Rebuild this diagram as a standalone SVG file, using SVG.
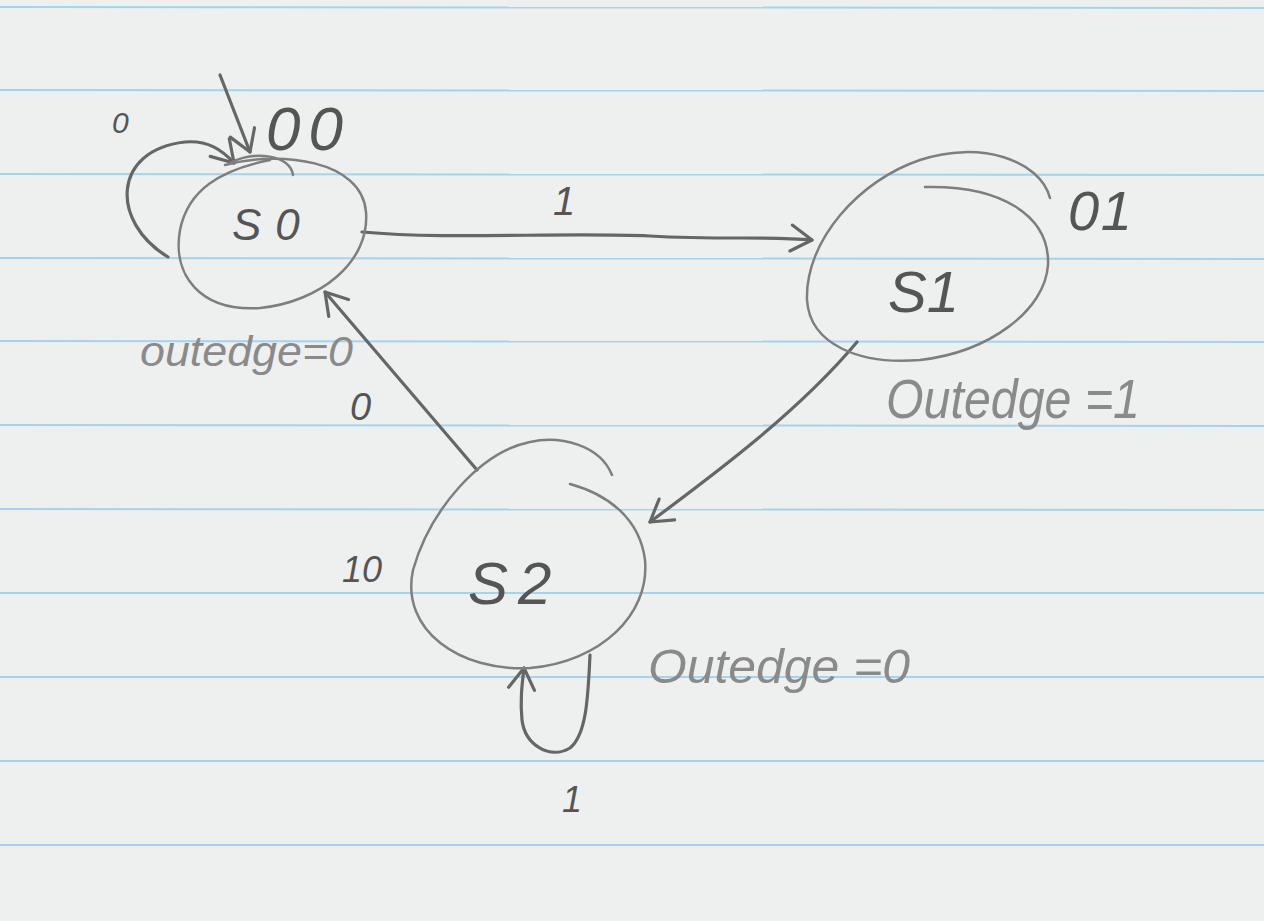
<svg xmlns="http://www.w3.org/2000/svg" width="1264" height="921" viewBox="0 0 1264 921">
<style>
.paper{fill:#eef0f0}
.rule{stroke:#a6d3ec;stroke-width:2}
.node{fill:none;stroke:#7e7e7e;stroke-width:2.5;stroke-linecap:round}
.edge{fill:none;stroke:#666;stroke-width:3.2;stroke-linecap:round}
.t{font-family:"Liberation Sans",Arial,sans-serif;font-style:italic;fill:#555}
.lt{font-family:"Liberation Sans",Arial,sans-serif;font-style:italic;fill:#8a8a8a}
</style>
<defs>
<marker id="ah" viewBox="-24 -16 26 32" refX="0" refY="0" markerWidth="26" markerHeight="32" markerUnits="userSpaceOnUse" orient="auto">
<path d="M -21 -13 L 0 0 L -21 13" fill="none" stroke="#666" stroke-width="3.2" stroke-linecap="round" stroke-linejoin="round"/>
</marker>
</defs>
<rect class="paper" x="0" y="0" width="1264" height="921"/>
<g id="rules">
<line class="rule" x1="0" y1="7" x2="1264" y2="8"/>
<line class="rule" x1="0" y1="90" x2="1264" y2="91"/>
<line class="rule" x1="0" y1="174" x2="1264" y2="175"/>
<line class="rule" x1="0" y1="258" x2="1264" y2="259"/>
<line class="rule" x1="0" y1="341" x2="1264" y2="342"/>
<line class="rule" x1="0" y1="425" x2="1264" y2="426"/>
<line class="rule" x1="0" y1="509" x2="1264" y2="510"/>
<line class="rule" x1="0" y1="593" x2="1264" y2="593"/>
<line class="rule" x1="0" y1="677" x2="1264" y2="677"/>
<line class="rule" x1="0" y1="761" x2="1264" y2="761"/>
<line class="rule" x1="0" y1="845" x2="1264" y2="845"/>
</g>
<g id="connectors">
<path class="edge" d="M 220 75 L 250 152" marker-end="url(#ah)"/>
<path class="edge" d="M 168 257 C 110 222, 112 150, 185 142 C 208 140, 222 150, 234 163" marker-end="url(#ah)"/>
<path class="edge" d="M 362 232 C 450 240, 560 232, 650 236 C 720 240, 770 236, 812 240" marker-end="url(#ah)"/>
<path class="edge" d="M 857 342 C 800 410, 720 470, 650 522" marker-end="url(#ah)"/>
<path class="edge" d="M 477 470 L 325 292" marker-end="url(#ah)"/>
<path class="edge" d="M 590 655 C 588 700, 586 735, 570 748 C 550 760, 525 745, 522 720 C 520 700, 522 685, 524 668" marker-end="url(#ah)"/>
<text class="t" x="112" y="133" font-size="30">0</text>
<text class="t" x="553" y="215" font-size="40">1</text>
<text class="t" x="350" y="420" font-size="38">0</text>
<text class="t" x="562" y="812" font-size="36">1</text>
</g>
<g id="S0">
<path class="node" d="M 225 165 C 280 150, 362 160, 366 212 C 370 262, 320 302, 260 308 C 200 312, 172 275, 180 230 C 188 190, 220 170, 270 160"/>
<path class="node" d="M 230 163 C 255 150, 290 155, 293 175"/>
<text class="t" x="232" y="240" font-size="44" letter-spacing="14">S0</text>
<text class="t" x="266" y="150" font-size="62" letter-spacing="8">00</text>
<text class="lt" x="140" y="366" font-size="42" textLength="213" lengthAdjust="spacingAndGlyphs">outedge=0</text>
</g>
<g id="S1">
<path class="node" d="M 1050 198 C 1040 160, 980 140, 920 160 C 860 180, 805 240, 807 300 C 810 345, 860 365, 920 360 C 990 352, 1045 310, 1048 265 C 1050 215, 1000 185, 925 187"/>
<text class="t" x="888" y="312" font-size="58">S1</text>
<text class="t" x="1068" y="230" font-size="56" textLength="64" lengthAdjust="spacing">01</text>
<text class="lt" x="886" y="418" font-size="56" textLength="254" lengthAdjust="spacingAndGlyphs">Outedge =1</text>
</g>
<g id="S2">
<path class="node" d="M 612 475 C 600 445, 560 435, 530 442 C 480 452, 430 510, 413 570 C 400 630, 460 672, 530 668 C 600 662, 650 615, 645 560 C 640 520, 610 495, 570 484"/>
<text class="t" x="468" y="604" font-size="60" letter-spacing="10">S2</text>
<text class="t" x="342" y="582" font-size="36">10</text>
<text class="lt" x="648" y="683" font-size="48" textLength="262" lengthAdjust="spacingAndGlyphs">Outedge =0</text>
</g>
</svg>
